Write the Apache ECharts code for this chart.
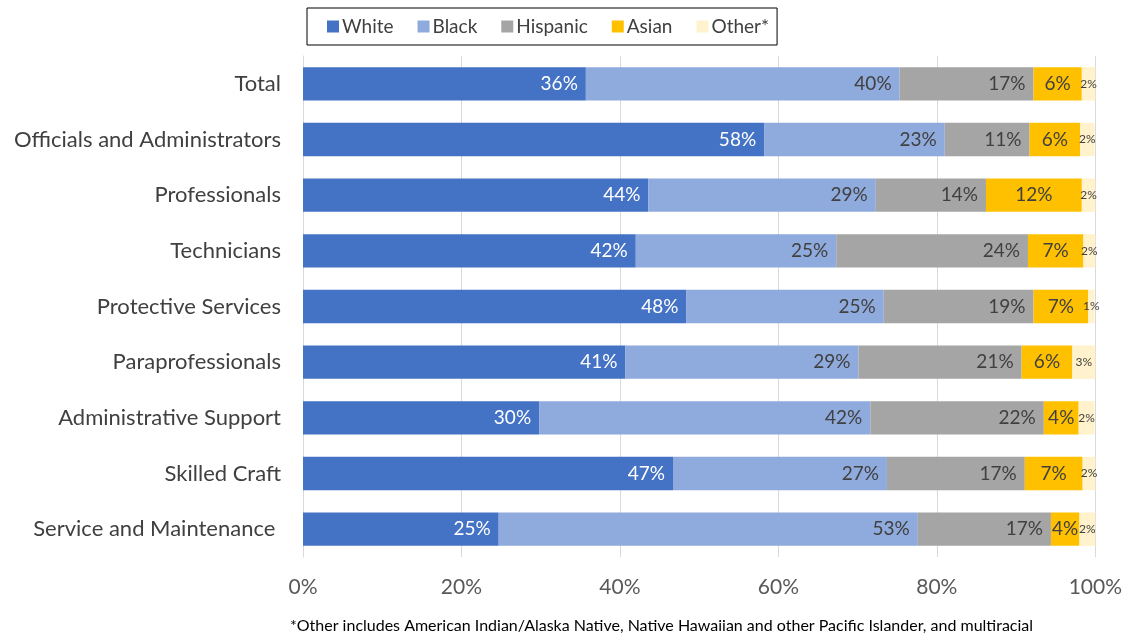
<!DOCTYPE html>
<html><head><meta charset="utf-8">
<script src="https://cdn.jsdelivr.net/npm/echarts@6/dist/echarts.min.js"></script>
<style>html,body{margin:0;padding:0;background:#fff}#c{width:1125px;height:637px}</style>
</head><body><div id="c"></div>
<script>
var categories = ["Total","Officials and Administrators","Professionals","Technicians","Protective Services","Paraprofessionals","Administrative Support","Skilled Craft","Service and Maintenance "];
var seriesNames = ["White","Black","Hispanic","Asian","Other*"];
var white    = [35.7, 58.2, 43.6, 42.0, 48.4, 40.7, 29.8, 46.7, 24.7];
var black    = [39.6, 22.8, 28.7, 25.3, 24.9, 29.4, 41.8, 27.0, 52.9];
var hispanic = [16.9, 10.7, 13.9, 24.2, 18.9, 20.6, 21.9, 17.4, 16.8];
var asian    = [6.1, 6.4, 12.1, 7.0, 6.9, 6.4, 4.4, 7.3, 3.6];
var other    = [1.7, 1.8, 1.7, 1.6, 0.8, 2.9, 2.0, 1.6, 2.0];
var xTicks = [0, 20, 40, 60, 80, 100];

var colors = ["#4472C4","#8FAADC","#A5A5A5","#FFC000","#FFF2CC"];
var values = [white, black, hispanic, asian, other];
var FONT = "Lato";

function mk(i){
  var pos = i < 3 ? "insideRight" : "inside";
  var lbl = {
    show: true, position: pos, fontFamily: FONT,
    fontSize: i === 4 ? 12 : 19,
    color: i === 0 ? "#ffffff" : "#404040",
    distance: 8,
    formatter: function(p){ return Math.round(p.value) + "%"; }
  };
  return {
    name: seriesNames[i], type: "bar", stack: "s",
    data: values[i], barWidth: "60%",
    itemStyle: {color: colors[i]},
    label: lbl, labelLayout: {hideOverlap:false},
    emphasis: {disabled: true}
  };
}

var chart = echarts.init(document.getElementById("c"), null, {renderer:"canvas"});
chart.setOption({
  animation: false,
  color: colors,
  legend: {
    top: 8, left: 307,
    itemWidth: 12, itemHeight: 12, itemGap: 24,
    borderColor: "#000", borderWidth: 1,
    padding: [9, 8, 9, 20],
    icon: "rect",
    textStyle: {fontFamily: FONT, fontSize: 19, color: "#404040", padding:[0,0,0,-2]},
    data: seriesNames
  },
  grid: {left: 303, right: 29, top: 56, bottom: 80, containLabel: false},
  xAxis: {
    type: "value", min: 0, max: 100, interval: 20,
    axisLabel: {fontFamily: FONT, fontSize: 21, color: "#595959", margin: 20,
      formatter: function(v){ return xTicks.indexOf(v) >= 0 ? v + "%" : ""; }},
    splitLine: {lineStyle: {color: "#D9D9D9", width: 1}},
    axisLine: {show: false}, axisTick: {show: false}
  },
  yAxis: {
    type: "category", data: categories, inverse: true,
    axisLabel: {fontFamily: FONT, fontSize: 22, color: "#404040", margin: 22},
    axisLine: {show: true, lineStyle: {color: "#D9D9D9"}},
    axisTick: {show: false}
  },
  graphic: [{
    type: "text", left: 290, top: 618,
    style: {text: "*Other includes American Indian/Alaska Native, Native Hawaiian and other Pacific Islander, and multiracial",
      font: "16px " + FONT, fill: "#000"}
  }],
  series: [mk(0), mk(1), mk(2), mk(3), mk(4)]
});
</script></body></html>
